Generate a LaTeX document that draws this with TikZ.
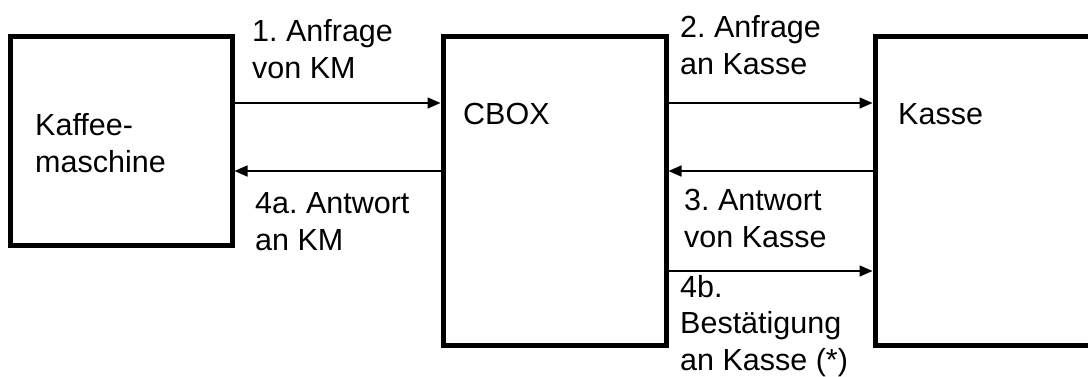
\documentclass[tikz,border=0pt]{standalone}
\usepackage{fontspec}
\setmainfont{Liberation Sans}
\frenchspacing
\usetikzlibrary{arrows.meta}
\begin{document}
\begin{tikzpicture}[x=1pt,y=-1pt,
  box/.style={draw=black,line width=5pt,minimum width=#1,inner sep=0pt},
  % multi-line labels are placed by the baseline of their last line
  txt/.style={anchor=base west,inner sep=0pt,align=left,
    font=\fontsize{30.5}{36.5}\selectfont},
  arr/.style={line width=1.6pt,-{Triangle[length=13pt,width=11pt]}}]
  \useasboundingbox (0,0) rectangle (1088,376);
  % the three parties
  \node[box=222pt,minimum height=209pt] (km) at (121,140.5) {};
  \node[box=223pt,minimum height=309pt] (cbox) at (554.5,190.5) {};
  \node[box=240pt,minimum height=309pt] (kasse) at (995,190.5) {};
  % box captions
  \node[txt] (kmlabel) at (35,172) {Kaffee-\\maschine};
  \node[txt] (cboxlabel) at (463,124) {CBOX};
  \node[txt] (kasselabel) at (898,124) {Kasse};
  % messages
  \draw[arr] (km.east |- 0,103) -- (cbox.west |- 0,103);
  \draw[arr] ([xshift=5pt]cbox.west |- 0,171) -- (km.east |- 0,171);
  \draw[arr] (cbox.east |- 0,103) -- (kasse.west |- 0,103);
  \draw[arr] ([xshift=5pt]kasse.west |- 0,171) -- (cbox.east |- 0,171);
  \draw[arr] (cbox.east |- 0,271) -- (kasse.west |- 0,271);
  % message labels
  \node[txt] (m1) at (252,78) {1. Anfrage\\von KM};
  \node[txt] (m4a) at (255,250) {4a. Antwort\\an KM};
  \node[txt] (m2) at (680,74) {2. Anfrage\\an Kasse};
  \node[txt] (m3) at (684,247) {3. Antwort\\von Kasse};
  \node[txt] (m4b) at (680,370) {4b.\\Bestätigung\\an Kasse (*)};
\end{tikzpicture}
\end{document}
